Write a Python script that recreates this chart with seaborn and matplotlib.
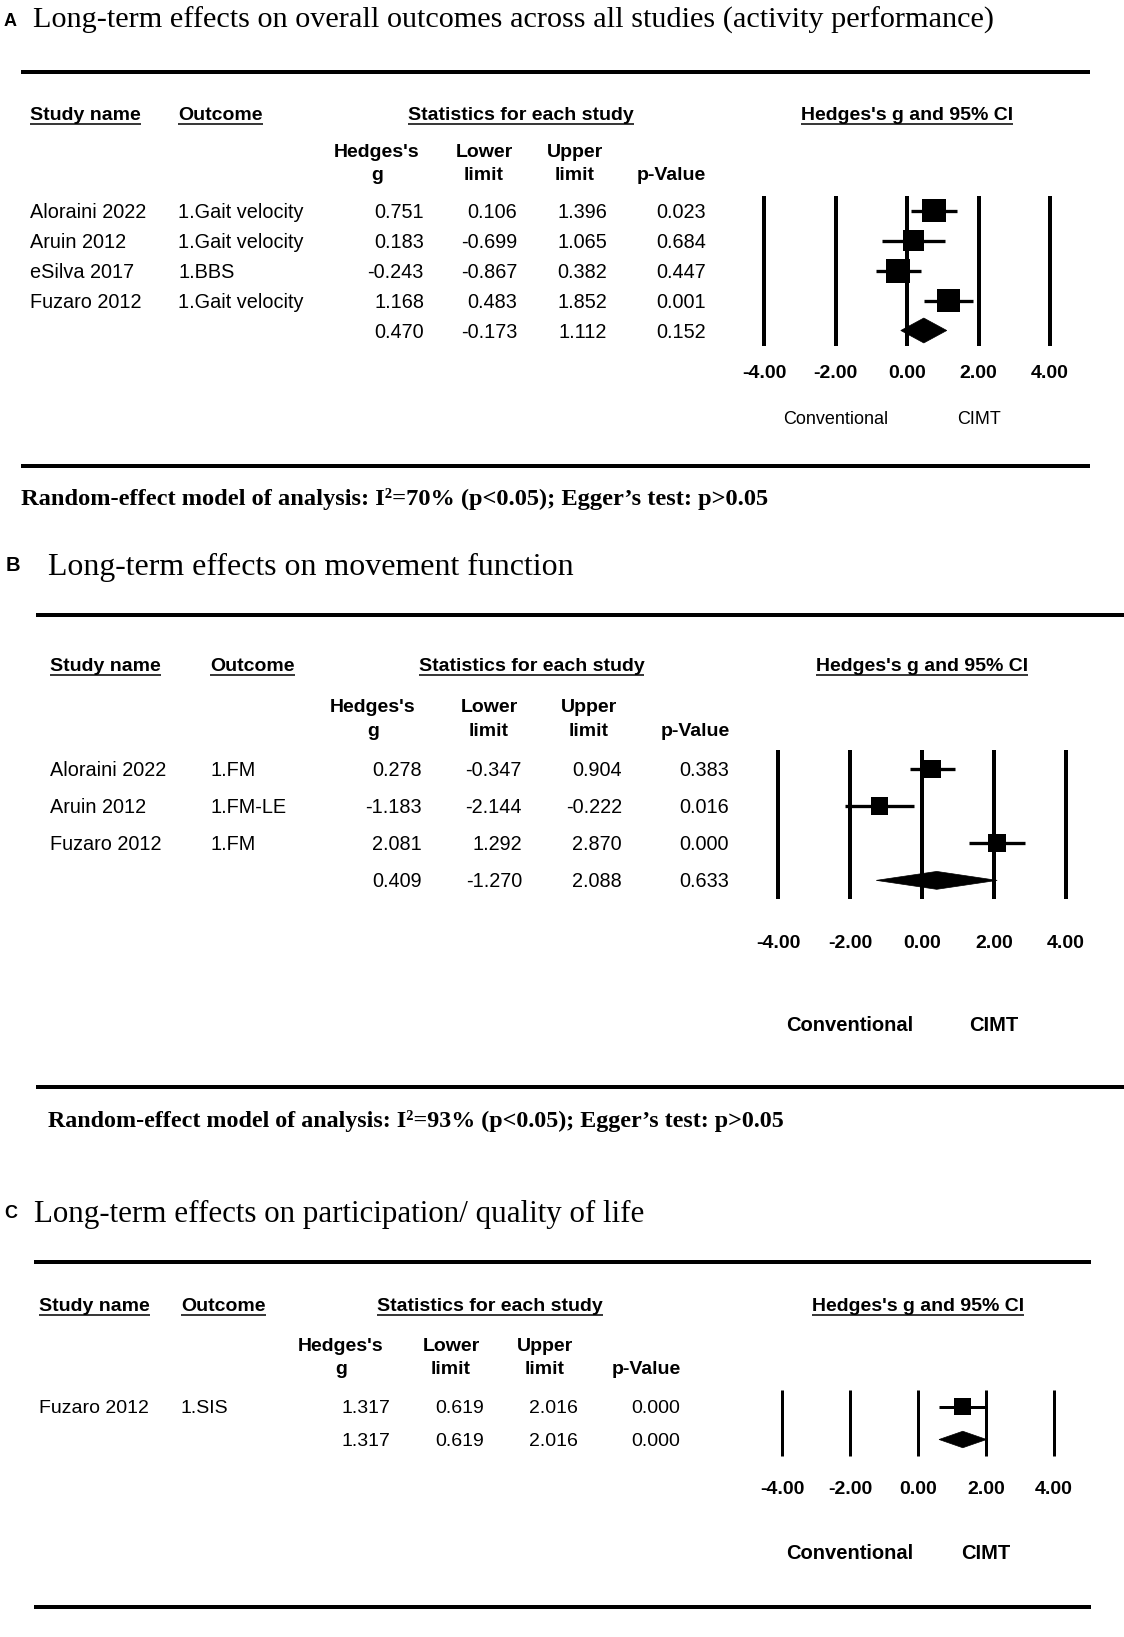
import matplotlib
matplotlib.use("Agg")
import numpy as np
import pandas as pd
import matplotlib.pyplot as plt
import seaborn as sns
from matplotlib.lines import Line2D
from matplotlib.patches import Polygon
from matplotlib.transforms import blended_transform_factory

# ---------------- data ----------------
tick_values = [-4, -2, 0, 2, 4]
tick_labels = ["-4.00", "-2.00", "0.00", "2.00", "4.00"]
favours = ["Conventional", "CIMT"]
favours_x = [-2, 2]
head_study = "Study name"
head_outcome = "Outcome"
head_stats = "Statistics for each study"
head_ci = "Hedges's g and 95% CI"
col_top = ["Hedges's", "Lower", "Upper", ""]
col_bot = ["g", "limit", "limit", "p-Value"]

A_title = "Long-term effects on overall outcomes across all studies (activity performance)"
A_study = ["Aloraini 2022", "Aruin 2012", "eSilva 2017", "Fuzaro 2012"]
A_outcome = ["1.Gait velocity", "1.Gait velocity", "1.BBS", "1.Gait velocity"]
A_g = [0.751, 0.183, -0.243, 1.168]
A_lower = [0.106, -0.699, -0.867, 0.483]
A_upper = [1.396, 1.065, 0.382, 1.852]
A_p = [0.023, 0.684, 0.447, 0.001]
A_weight = [26.4, 21.3, 26.8, 25.5]
A_pooled = [0.470, -0.173, 1.112, 0.152]
A_note = "Random-effect model of analysis: I\u00b2=70% (p<0.05); Egger\u2019s test: p>0.05"

B_title = "Long-term effects on movement function"
B_study = ["Aloraini 2022", "Aruin 2012", "Fuzaro 2012"]
B_outcome = ["1.FM", "1.FM-LE", "1.FM"]
B_g = [0.278, -1.183, 2.081]
B_lower = [-0.347, -2.144, 1.292]
B_upper = [0.904, -0.222, 2.870]
B_p = [0.383, 0.016, 0.000]
B_weight = [34.4, 32.3, 33.3]
B_pooled = [0.409, -1.270, 2.088, 0.633]
B_note = "Random-effect model of analysis: I\u00b2=93% (p<0.05); Egger\u2019s test: p>0.05"

C_title = "Long-term effects on participation/ quality of life"
C_study = ["Fuzaro 2012"]
C_outcome = ["1.SIS"]
C_g = [1.317]
C_lower = [0.619]
C_upper = [2.016]
C_p = [0.000]
C_weight = [100.0]
C_pooled = [1.317, 0.619, 2.016, 0.000]
C_note = None

# ---------------- style / layout (pixels) ----------------
sns.set_theme(style="white")
SANS = ["Liberation Sans", "DejaVu Sans"]
SERIF = ["Liberation Serif", "DejaVu Serif"]
plt.rcParams["font.family"] = SANS

W, H = 1124, 1637
fig = plt.figure(figsize=(W / 100, H / 100), dpi=100)
fig.patch.set_facecolor("white")
renderer = fig.canvas.get_renderer()


def em(pt):
    return pt / 0.72


def put(x, y, s, size, weight="normal", ha="left", family=SANS, cap=0.358):
    return fig.text(x / W, 1 - (y + cap * em(size)) / H, s, fontsize=size,
                    fontweight=weight, ha=ha, va="baseline", family=family,
                    color="black")


def put_fit(x, y, s, width, weight="normal", family=SERIF, cap=0.331):
    t = put(x, y, s, 20, weight=weight, family=family, cap=cap)
    w = t.get_window_extent(renderer).width
    size = 20 * width / w
    t.remove()
    return put(x, y, s, size, weight=weight, family=family, cap=cap)


def hline(y, x0, x1, lw_px, color="black"):
    fig.add_artist(Line2D([x0 / W, x1 / W], [1 - y / H] * 2, transform=fig.transFigure,
                          color=color, lw=lw_px * 0.72, solid_capstyle="butt"))


def underline(t, y):
    bb = t.get_window_extent(renderer)
    hline(y, bb.x0, bb.x1, 2.0, color="#3a3a3a")


layouts = [
    dict(letter="A", letter_x=4, letter_y=19.5, letter_size=13,
         title_x=33, title_y=17.7, title_w=960,
         top_line=(72, 21, 1090), bot_line=(466, 21, 1090),
         head_y=113, study_x=30, outcome_x=178, stats_cx=521,
         sub_y=(150, 173), col_cx=[377, 484, 575, 671], col_rx=[424, 517, 607, 706],
         ax_x=(764, 1050), ax_y=(195.5, 345.5), tick_y=372,
         lab_y=418, lab_weight="normal", lab_size=13,
         foot=(21, 497, 747), size=14.3, vlw=4, cilw=3.3, sq=24, dia=0.83),
    dict(letter="B", letter_x=6, letter_y=564, letter_size=14.5,
         title_x=48, title_y=564.5, title_w=525,
         top_line=(615, 36, 1124), bot_line=(1087, 36, 1124),
         head_y=664, study_x=50, outcome_x=210, stats_cx=531.5,
         sub_y=(705, 729), col_cx=[373, 489, 589, 695], col_rx=[422, 522, 622, 729],
         ax_x=(778, 1066), ax_y=(750, 899), tick_y=942,
         lab_y=1024, lab_weight="bold", lab_size=14.5,
         foot=(48, 1119, 733), size=14.3, vlw=4, cilw=3.3, sq=18, dia=0.48),
    dict(letter="C", letter_x=4, letter_y=1212, letter_size=13,
         title_x=34, title_y=1212, title_w=611,
         top_line=(1262, 34, 1091), bot_line=(1607, 34, 1091),
         head_y=1304, study_x=39, outcome_x=181, stats_cx=490,
         sub_y=(1344, 1367), col_cx=[341, 451, 545, 646], col_rx=[390, 484, 578, 680],
         ax_x=(782, 1054), ax_y=(1390, 1456), tick_y=1488,
         lab_y=1552, lab_weight="bold", lab_size=14.5,
         foot=None, size=14.0, vlw=3, cilw=3, sq=17, dia=0.5),
]

panels = [
    (A_title, A_study, A_outcome, A_g, A_lower, A_upper, A_p, A_weight, A_pooled, A_note),
    (B_title, B_study, B_outcome, B_g, B_lower, B_upper, B_p, B_weight, B_pooled, B_note),
    (C_title, C_study, C_outcome, C_g, C_lower, C_upper, C_p, C_weight, C_pooled, C_note),
]

for (title, study, outcome, g, lo, hi, p, wt, pooled, note), L in zip(panels, layouts):
    sz = L["size"]
    # panel letter and title
    put(L["letter_x"], L["letter_y"], L["letter"], L["letter_size"], weight="bold")
    put_fit(L["title_x"], L["title_y"], title, L["title_w"])
    hline(L["top_line"][0], L["top_line"][1], L["top_line"][2], 4)
    hline(L["bot_line"][0], L["bot_line"][1], L["bot_line"][2], 4)

    # forest axes
    x0, x1 = L["ax_x"]
    top, bot = L["ax_y"]
    ax = fig.add_axes([x0 / W, 1 - bot / H, (x1 - x0) / W, (bot - top) / H])
    ax.set_facecolor("none")
    n = len(study) + 1
    rows = np.arange(len(study))

    # headers
    hy = L["head_y"]
    for txt, x, ha in [(head_study, L["study_x"], "left"),
                       (head_outcome, L["outcome_x"], "left"),
                       (head_stats, L["stats_cx"], "center"),
                       (head_ci, (x0 + x1) / 2, "center")]:
        t = put(x, hy, txt, 14, weight="bold", ha=ha)
        underline(t, hy + 10.5)
    for j in range(4):
        if col_top[j]:
            put(L["col_cx"][j], L["sub_y"][0], col_top[j], 14, weight="bold", ha="center")
        put(L["col_cx"][j], L["sub_y"][1], col_bot[j], 14, weight="bold", ha="center")

    # table rows
    dy = (bot - top) / n
    row_y = [top + dy * (i + 0.5) for i in range(n)]
    for i in range(len(study)):
        put(L["study_x"], row_y[i], study[i], sz)
        put(L["outcome_x"], row_y[i], outcome[i], sz)
        for j, v in enumerate([g[i], lo[i], hi[i], p[i]]):
            put(L["col_rx"][j], row_y[i], f"{v:.3f}", sz, ha="right")
    for j, v in enumerate(pooled):
        put(L["col_rx"][j], row_y[-1], f"{v:.3f}", sz, ha="right")

    # reference lines
    ax.vlines(tick_values, -0.5, n - 0.5, color="black", lw=L["vlw"] * 0.72,
              clip_on=False, zorder=1)
    # confidence intervals
    ax.hlines(rows, lo, hi, color="black", lw=L["cilw"] * 0.72, clip_on=False, zorder=2)
    # weighted squares
    df = pd.DataFrame({"g": g, "row": rows, "w": wt})
    smax = (L["sq"] * 0.72) ** 2
    sns.scatterplot(data=df, x="g", y="row", size="w", sizes=(0, smax),
                    size_norm=(0, max(wt)), marker="s", color="black",
                    edgecolor="none", linewidth=0, legend=False, ax=ax,
                    zorder=4, clip_on=False)
    # pooled diamond
    r = n - 1
    h = L["dia"] / 2
    ax.add_patch(Polygon([(pooled[1], r), (pooled[0], r - h), (pooled[2], r), (pooled[0], r + h)],
                         closed=True, facecolor="black", edgecolor="black", lw=0.5,
                         zorder=4, clip_on=False))

    ax.set_xlim(tick_values[0], tick_values[-1])
    ax.set_ylim(n - 0.5, -0.5)
    ax.set_xlabel("")
    ax.set_ylabel("")
    ax.set_yticks([])
    for s in ax.spines.values():
        s.set_visible(False)
    ax.grid(False)
    ax.set_xticks(tick_values)
    ax.set_xticklabels(tick_labels, fontweight="bold", fontsize=14, family=SANS)
    pad_px = L["tick_y"] - bot - 0.358 * em(14)
    ax.tick_params(axis="x", length=0, pad=pad_px * 0.72, colors="black")

    # favours labels
    tr = blended_transform_factory(ax.transData, fig.transFigure)
    for fxv, lab in zip(favours_x, favours):
        ax.text(fxv, 1 - (L["lab_y"] + 0.358 * em(L["lab_size"])) / H, lab,
                transform=tr, ha="center", va="baseline", fontsize=L["lab_size"],
                fontweight=L["lab_weight"], family=SANS, color="black")

    # footnote
    if note is not None and L["foot"] is not None:
        fx0, fy0, fw = L["foot"]
        put_fit(fx0, fy0, note, fw, weight="bold")

fig.savefig("out.png", dpi=100, facecolor="white")
